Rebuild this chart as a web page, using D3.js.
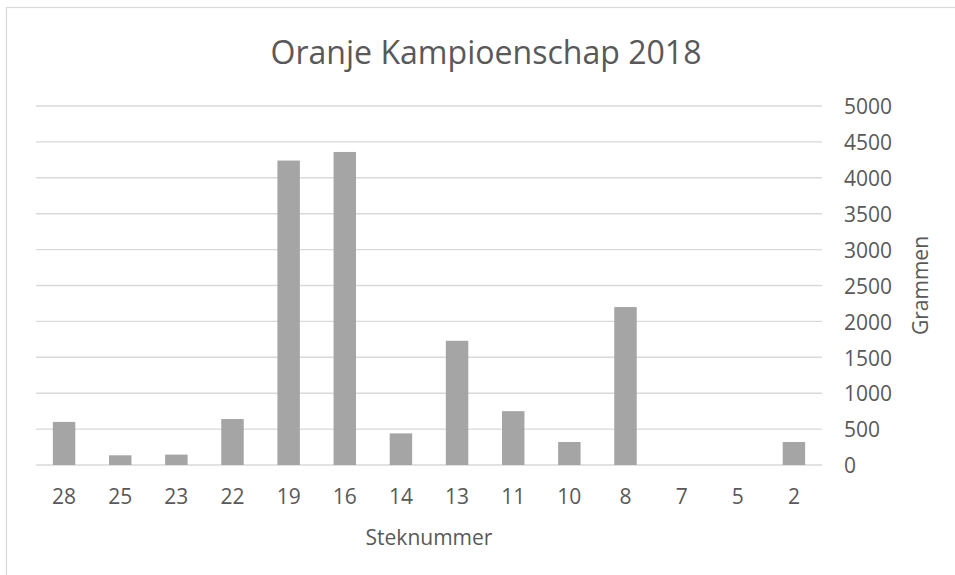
<!DOCTYPE html>
<html>
<head>
<meta charset="utf-8">
<script src="https://cdn.jsdelivr.net/npm/d3@7"></script>
<style>
  html, body { margin: 0; padding: 0; background: #fff; }
  svg { display: block; }
  text { font-family: "Open Sans", "DejaVu Sans", sans-serif; fill: #595959; }
</style>
</head>
<body>
<svg id="chart" width="955" height="575"></svg>
<script>
// ---- data ----
const categories = ["28", "25", "23", "22", "19", "16", "14", "13", "11", "10", "8", "7", "5", "2"];
const values = [600, 135, 145, 640, 4240, 4360, 440, 1730, 750, 320, 2200, 0, 0, 320];
const yTicks = [0, 500, 1000, 1500, 2000, 2500, 3000, 3500, 4000, 4500, 5000];
const titleText = "Oranje Kampioenschap 2018";
const xTitle = "Steknummer";
const yTitle = "Grammen";

// ---- layout ----
const svg = d3.select("#chart");
const plot = { left: 36, right: 822, top: 106, bottom: 465 };

// chart frame (left/top visible, right/bottom cut off)
svg.append("rect")
  .attr("x", 6.5).attr("y", 7.5)
  .attr("width", 1200).attr("height", 1200)
  .attr("fill", "#fff").attr("stroke", "#d9d9d9").attr("stroke-width", 1.2);

const x = d3.scaleBand()
  .domain(categories)
  .range([plot.left, plot.right])
  .paddingInner(0.6).paddingOuter(0.3);

const y = d3.scaleLinear()
  .domain([0, 5000])
  .range([plot.bottom, plot.top]);

// gridlines
svg.append("g")
  .selectAll("line")
  .data(yTicks)
  .join("line")
  .attr("x1", plot.left).attr("x2", plot.right)
  .attr("y1", d => y(d)).attr("y2", d => y(d))
  .attr("stroke", "#d9d9d9").attr("stroke-width", 1.4);

// bars
svg.append("g")
  .selectAll("rect")
  .data(values)
  .join("rect")
  .attr("x", (d, i) => x(categories[i]))
  .attr("width", x.bandwidth())
  .attr("y", d => y(d))
  .attr("height", d => y(0) - y(d))
  .attr("fill", "#a5a5a5");

// x axis
const xAxis = svg.append("g")
  .attr("transform", `translate(0,${plot.bottom})`)
  .call(d3.axisBottom(x).tickSize(0).tickPadding(0));
xAxis.select(".domain").remove();
xAxis.selectAll("text")
  .attr("y", 39).attr("dy", null)
  .style("font-size", "21px").style("fill", "#595959");

// y axis (right)
const yAxis = svg.append("g")
  .attr("transform", `translate(${plot.right},0)`)
  .call(d3.axisRight(y).tickValues(yTicks).tickSize(0).tickPadding(22).tickFormat(d3.format("d")));
yAxis.select(".domain").remove();
yAxis.selectAll("text")
  .attr("dy", "0.37em")
  .style("font-size", "21px").style("fill", "#595959");

// title
const title = svg.append("text")
  .attr("x", 486).attr("y", 64)
  .attr("text-anchor", "middle")
  .style("font-size", "32px")
  .text(titleText);
{
  const w = title.node().getComputedTextLength();
  title.style("font-size", (32 * 431 / w).toFixed(2) + "px");
}

// x axis title
svg.append("text")
  .attr("x", (plot.left + plot.right) / 2).attr("y", 545)
  .attr("text-anchor", "middle")
  .style("font-size", "21px")
  .text(xTitle);

// y axis title
svg.append("text")
  .attr("transform", `translate(928,${(plot.top + plot.bottom) / 2}) rotate(-90)`)
  .attr("text-anchor", "middle")
  .style("font-size", "21px")
  .text(yTitle);
</script>
</body>
</html>
